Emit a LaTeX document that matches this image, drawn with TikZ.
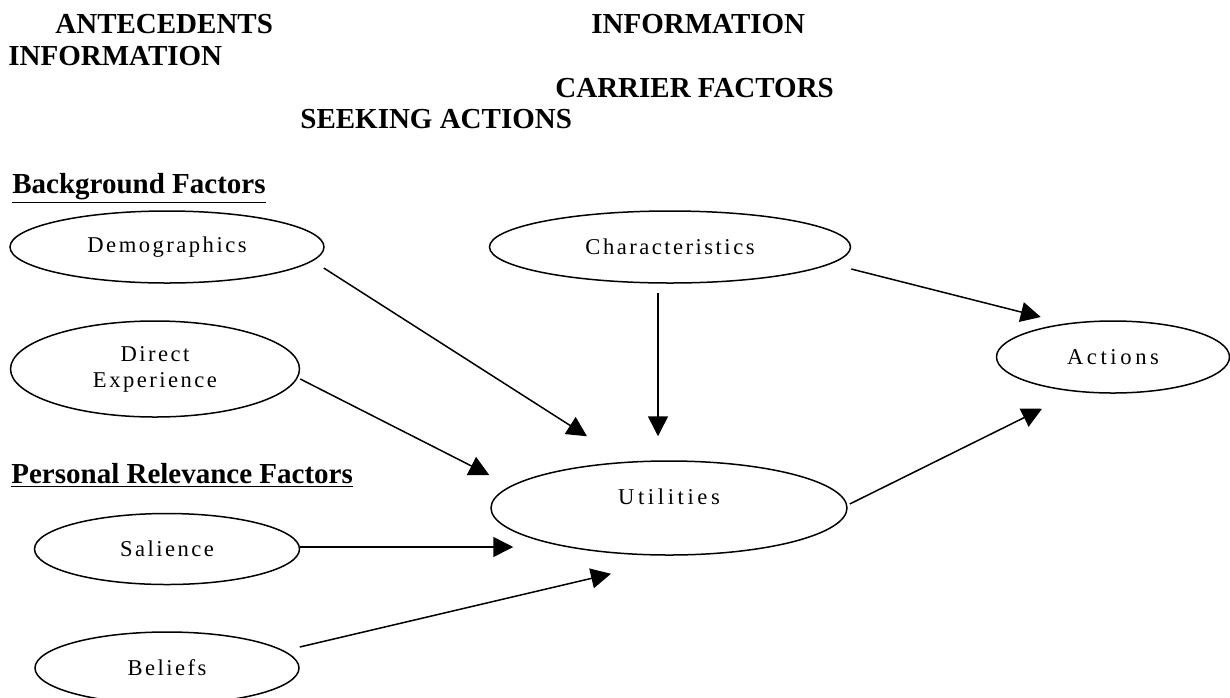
\documentclass[tikz,border=0pt]{standalone}
\usepackage{fontspec}
\setmainfont{Liberation Serif}
\newfontfamily\labelfont[LetterSpace=11]{Liberation Serif}
\newfontfamily\widefont[LetterSpace=16]{Liberation Serif}
\usetikzlibrary{
  shapes.geometric,
  arrows.meta
}
\tikzset{
  factor/.style={ellipse, draw, line width=0.75pt, inner sep=0pt, align=center,
    font=\labelfont\fontsize{11.3}{13}\selectfont},
  wide/.style={font=\widefont\fontsize{11.3}{13}\selectfont},
  flow/.style={-{Triangle[length=10pt,width=10pt]}, line width=0.75pt},
  heading/.style={anchor=base west, inner sep=0pt,
    font=\bfseries\fontsize{14.5}{17}\selectfont}
}

\begin{document}
\begin{tikzpicture}[x=0.5pt, y=-0.5pt]
    \useasboundingbox (0,0) rectangle (1230,697);
    % column headings
    \node[heading] (ante) at (55,33) {ANTECEDENTS};
    \node[heading] (info1) at (591,33) {INFORMATION};
    \node[heading] (info2) at (8,65) {INFORMATION};
    \node[heading] (carrier) at (555,97) {CARRIER FACTORS};
    \node[heading] (seeking) at (300,128) {SEEKING ACTIONS};
    \node[heading] (bg) at (12,193) {\underline{Background Factors}};
    \node[heading] (pr) at (11,483) {\underline{Personal Relevance Factors}};
    % factors
    \node[factor, minimum width=157pt, minimum height=36pt] (dem) at (167,247) {Demographics};
    \node[factor, minimum width=180.5pt, minimum height=36pt] (char) at (670,247) {Characteristics};
    \node[factor, minimum width=144.5pt, minimum height=48pt] (dir) at (155,369) {Direct\\Experience};
    \node[factor, wide, minimum width=116.5pt, minimum height=36pt] (act) at (1113,357) {Actions};
    \node[factor, wide, minimum width=178pt, minimum height=47pt] (util) at (669,508) {Utilities\\[-2pt]};
    \node[factor, minimum width=132.5pt, minimum height=35.5pt] (sal) at (167,549) {Salience};
    \node[factor, minimum width=132pt, minimum height=36pt] (bel) at (167,668) {Beliefs};
    % arrows
    \draw[flow] ([shift={(-1,21)}]dem.east) -- ([shift={(-82,-24)}]util.north);
    \draw[flow] ([shift={(-12,9)}]char.south) -- ([shift={(-11,-24)}]util.north);
    \draw[flow] ([shift={(0,22)}]char.east) -- ([shift={(45,-40)}]act.west);
    \draw[flow] ([shift={(0,10)}]dir.east) -- ([shift={(-1,-33)}]util.west);
    \draw[flow] ([shift={(2,-4)}]util.east) -- ([shift={(-71,15)}]act.south);
    \draw[flow] ([shift={(0,-2)}]sal.east) -- ([shift={(23,39)}]util.west);
    \draw[flow] ([shift={(0,-21)}]bel.east) -- ([shift={(-58,18)}]util.south);
\end{tikzpicture}
\end{document}
